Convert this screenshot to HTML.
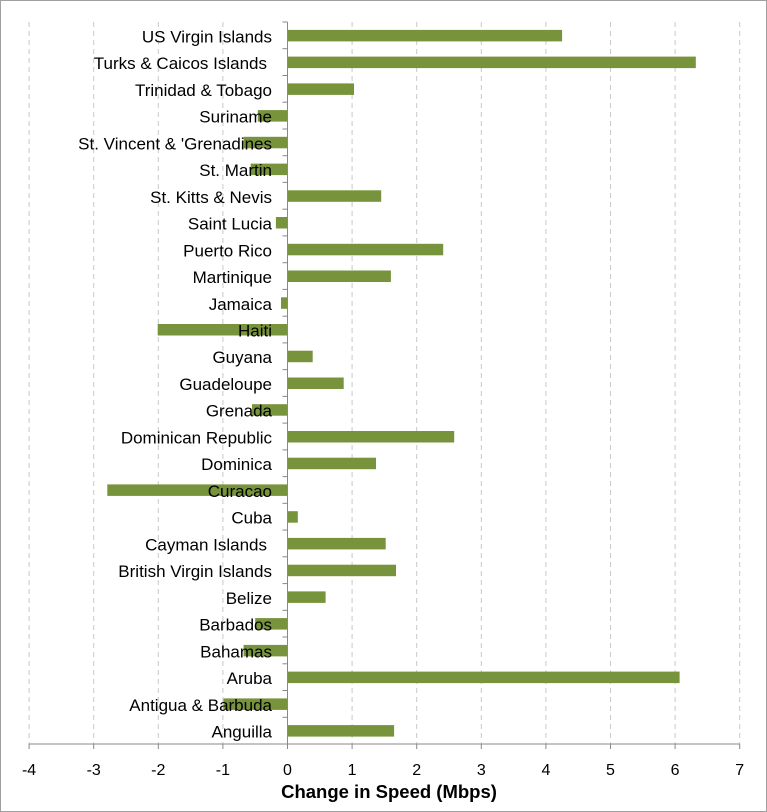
<!DOCTYPE html>
<html><head><style>
html,body{margin:0;padding:0;background:#fff}
svg{display:block;font-family:"Liberation Sans",Arial,sans-serif}
</style></head><body>
<svg width="767" height="812" viewBox="0 0 767 812">
<rect x="0.5" y="0.5" width="766" height="811" fill="#fff" stroke="#a0a0a0"/>
<g stroke="#c8c8c8" stroke-dasharray="5,4">
<line x1="29.1" y1="22" x2="29.1" y2="744"/><line x1="93.7" y1="22" x2="93.7" y2="744"/><line x1="158.3" y1="22" x2="158.3" y2="744"/><line x1="222.9" y1="22" x2="222.9" y2="744"/><line x1="352.1" y1="22" x2="352.1" y2="744"/><line x1="416.7" y1="22" x2="416.7" y2="744"/><line x1="481.3" y1="22" x2="481.3" y2="744"/><line x1="545.9" y1="22" x2="545.9" y2="744"/><line x1="610.5" y1="22" x2="610.5" y2="744"/><line x1="675.1" y1="22" x2="675.1" y2="744"/><line x1="739.7" y1="22" x2="739.7" y2="744"/>
</g>
<g stroke="#888">
<line x1="29.1" y1="744" x2="29.1" y2="749"/><line x1="93.7" y1="744" x2="93.7" y2="749"/><line x1="158.3" y1="744" x2="158.3" y2="749"/><line x1="222.9" y1="744" x2="222.9" y2="749"/><line x1="287.5" y1="744" x2="287.5" y2="749"/><line x1="352.1" y1="744" x2="352.1" y2="749"/><line x1="416.7" y1="744" x2="416.7" y2="749"/><line x1="481.3" y1="744" x2="481.3" y2="749"/><line x1="545.9" y1="744" x2="545.9" y2="749"/><line x1="610.5" y1="744" x2="610.5" y2="749"/><line x1="675.1" y1="744" x2="675.1" y2="749"/><line x1="739.7" y1="744" x2="739.7" y2="749"/>
<line x1="282.5" y1="22" x2="287.5" y2="22"/><line x1="282.5" y1="48.7" x2="287.5" y2="48.7"/><line x1="282.5" y1="75.5" x2="287.5" y2="75.5"/><line x1="282.5" y1="102.2" x2="287.5" y2="102.2"/><line x1="282.5" y1="129" x2="287.5" y2="129"/><line x1="282.5" y1="155.7" x2="287.5" y2="155.7"/><line x1="282.5" y1="182.4" x2="287.5" y2="182.4"/><line x1="282.5" y1="209.2" x2="287.5" y2="209.2"/><line x1="282.5" y1="235.9" x2="287.5" y2="235.9"/><line x1="282.5" y1="262.7" x2="287.5" y2="262.7"/><line x1="282.5" y1="289.4" x2="287.5" y2="289.4"/><line x1="282.5" y1="316.2" x2="287.5" y2="316.2"/><line x1="282.5" y1="342.9" x2="287.5" y2="342.9"/><line x1="282.5" y1="369.6" x2="287.5" y2="369.6"/><line x1="282.5" y1="396.4" x2="287.5" y2="396.4"/><line x1="282.5" y1="423.1" x2="287.5" y2="423.1"/><line x1="282.5" y1="449.9" x2="287.5" y2="449.9"/><line x1="282.5" y1="476.6" x2="287.5" y2="476.6"/><line x1="282.5" y1="503.3" x2="287.5" y2="503.3"/><line x1="282.5" y1="530.1" x2="287.5" y2="530.1"/><line x1="282.5" y1="556.8" x2="287.5" y2="556.8"/><line x1="282.5" y1="583.6" x2="287.5" y2="583.6"/><line x1="282.5" y1="610.3" x2="287.5" y2="610.3"/><line x1="282.5" y1="637" x2="287.5" y2="637"/><line x1="282.5" y1="663.8" x2="287.5" y2="663.8"/><line x1="282.5" y1="690.5" x2="287.5" y2="690.5"/><line x1="282.5" y1="717.3" x2="287.5" y2="717.3"/>
</g>
<g fill="#77933c">
<rect x="287.5" y="29.9" width="274.6" height="11.5"/>
<rect x="287.5" y="56.6" width="408.3" height="11.5"/>
<rect x="287.5" y="83.4" width="66.5" height="11.5"/>
<rect x="257.8" y="110.1" width="29.7" height="11.5"/>
<rect x="243.6" y="136.8" width="43.9" height="11.5"/>
<rect x="250.7" y="163.6" width="36.8" height="11.5"/>
<rect x="287.5" y="190.3" width="93.7" height="11.5"/>
<rect x="275.9" y="217" width="11.6" height="11.5"/>
<rect x="287.5" y="243.8" width="155.7" height="11.5"/>
<rect x="287.5" y="270.5" width="103.4" height="11.5"/>
<rect x="281" y="297.3" width="6.5" height="11.5"/>
<rect x="157.7" y="324" width="129.8" height="11.5"/>
<rect x="287.5" y="350.7" width="25.2" height="11.5"/>
<rect x="287.5" y="377.5" width="56.2" height="11.5"/>
<rect x="252" y="404.2" width="35.5" height="11.5"/>
<rect x="287.5" y="431" width="166.7" height="11.5"/>
<rect x="287.5" y="457.7" width="88.5" height="11.5"/>
<rect x="107.3" y="484.4" width="180.2" height="11.5"/>
<rect x="287.5" y="511.2" width="10.3" height="11.5"/>
<rect x="287.5" y="537.9" width="98.2" height="11.5"/>
<rect x="287.5" y="564.7" width="108.5" height="11.5"/>
<rect x="287.5" y="591.4" width="38.1" height="11.5"/>
<rect x="255.2" y="618.1" width="32.3" height="11.5"/>
<rect x="243.6" y="644.9" width="43.9" height="11.5"/>
<rect x="287.5" y="671.6" width="392.1" height="11.5"/>
<rect x="223.5" y="698.4" width="64" height="11.5"/>
<rect x="287.5" y="725.1" width="106.6" height="11.5"/>
</g>
<g font-size="17" text-anchor="end" fill="#000">
<text x="272" y="42.4">US Virgin Islands</text>
<text x="267" y="69.1">Turks &amp; Caicos Islands</text>
<text x="272" y="95.9">Trinidad &amp; Tobago</text>
<text x="272" y="122.6">Suriname</text>
<text x="272" y="149.3">St. Vincent &amp; 'Grenadines</text>
<text x="272" y="176.1">St. Martin</text>
<text x="272" y="202.8">St. Kitts &amp; Nevis</text>
<text x="272" y="229.5">Saint Lucia</text>
<text x="272" y="256.3">Puerto Rico</text>
<text x="272" y="283">Martinique</text>
<text x="272" y="309.8">Jamaica</text>
<text x="272" y="336.5">Haiti</text>
<text x="272" y="363.2">Guyana</text>
<text x="272" y="390">Guadeloupe</text>
<text x="272" y="416.7">Grenada</text>
<text x="272" y="443.5">Dominican Republic</text>
<text x="272" y="470.2">Dominica</text>
<text x="272" y="496.9">Curacao</text>
<text x="272" y="523.7">Cuba</text>
<text x="267" y="550.4">Cayman Islands</text>
<text x="272" y="577.2">British Virgin Islands</text>
<text x="272" y="603.9">Belize</text>
<text x="272" y="630.6">Barbados</text>
<text x="272" y="657.4">Bahamas</text>
<text x="272" y="684.1">Aruba</text>
<text x="272" y="710.9">Antigua &amp; Barbuda</text>
<text x="272" y="737.6">Anguilla</text>
</g>
<g stroke="#888">
<line x1="287.5" y1="22" x2="287.5" y2="744"/>
<line x1="29.1" y1="744" x2="739.7" y2="744"/>
</g>
<g font-size="16" text-anchor="middle" fill="#000">
<text x="29.1" y="775">-4</text><text x="93.7" y="775">-3</text><text x="158.3" y="775">-2</text><text x="222.9" y="775">-1</text><text x="287.5" y="775">0</text><text x="352.1" y="775">1</text><text x="416.7" y="775">2</text><text x="481.3" y="775">3</text><text x="545.9" y="775">4</text><text x="610.5" y="775">5</text><text x="675.1" y="775">6</text><text x="739.7" y="775">7</text>
</g>
<text x="389" y="798" font-size="18.5" font-weight="bold" text-anchor="middle">Change in Speed (Mbps)</text>
</svg>
</body></html>
